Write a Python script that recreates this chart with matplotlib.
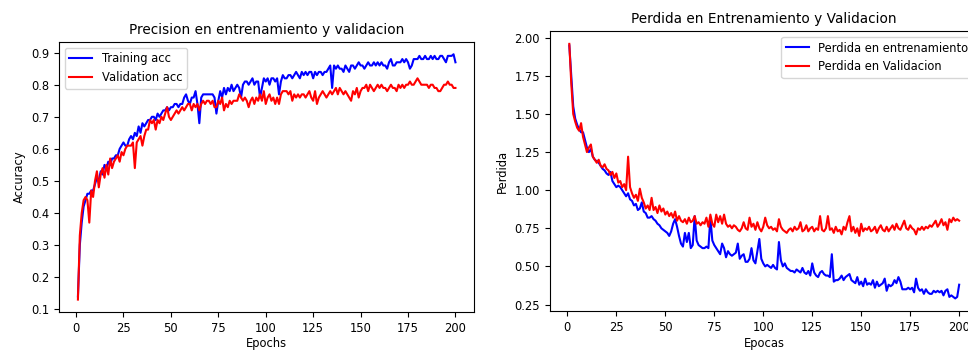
import matplotlib
matplotlib.use("Agg")
import matplotlib.pyplot as plt

epochs = list(range(1, 201))

train_acc = [
    0.14, 0.30, 0.37, 0.42, 0.44, 0.46, 0.46, 0.47, 0.47, 0.49,
    0.51, 0.50, 0.53, 0.52, 0.55, 0.54, 0.56, 0.55, 0.57, 0.57,
    0.58, 0.58, 0.60, 0.61, 0.62, 0.61, 0.61, 0.63, 0.64, 0.63,
    0.65, 0.64, 0.67, 0.65, 0.68, 0.67, 0.68, 0.69, 0.69, 0.70,
    0.70, 0.69, 0.71, 0.70, 0.71, 0.72, 0.72, 0.73, 0.72, 0.73,
    0.73, 0.74, 0.74, 0.73, 0.74, 0.74, 0.76, 0.77, 0.75, 0.74,
    0.76, 0.76, 0.78, 0.74, 0.68, 0.76, 0.77, 0.77, 0.77, 0.77,
    0.77, 0.77, 0.76, 0.71, 0.75, 0.78, 0.76, 0.79, 0.77, 0.79,
    0.78, 0.80, 0.78, 0.79, 0.80, 0.79, 0.76, 0.80, 0.81, 0.81,
    0.80, 0.81, 0.82, 0.80, 0.81, 0.81, 0.76, 0.79, 0.82, 0.81,
    0.82, 0.80, 0.82, 0.82, 0.81, 0.82, 0.77, 0.81, 0.83, 0.82,
    0.82, 0.83, 0.83, 0.82, 0.83, 0.84, 0.83, 0.82, 0.84, 0.83,
    0.84, 0.83, 0.84, 0.84, 0.82, 0.84, 0.83, 0.84, 0.84, 0.83,
    0.84, 0.84, 0.85, 0.86, 0.79, 0.86, 0.85, 0.86, 0.85, 0.85,
    0.84, 0.86, 0.85, 0.84, 0.86, 0.86, 0.85, 0.86, 0.87, 0.86,
    0.86, 0.85, 0.86, 0.87, 0.86, 0.86, 0.87, 0.86, 0.87, 0.86,
    0.87, 0.86, 0.86, 0.85, 0.87, 0.88, 0.86, 0.86, 0.87, 0.87,
    0.87, 0.88, 0.87, 0.88, 0.87, 0.85, 0.86, 0.88, 0.88, 0.88,
    0.89, 0.88, 0.88, 0.89, 0.88, 0.88, 0.89, 0.88, 0.89, 0.88,
    0.88, 0.89, 0.89, 0.88, 0.87, 0.89, 0.89, 0.89, 0.895, 0.87,
]

val_acc = [
    0.13, 0.33, 0.40, 0.44, 0.45, 0.44, 0.37, 0.47, 0.45, 0.50,
    0.53, 0.48, 0.52, 0.54, 0.51, 0.55, 0.52, 0.57, 0.54, 0.56,
    0.57, 0.58, 0.56, 0.59, 0.58, 0.60, 0.61, 0.61, 0.61, 0.62,
    0.54, 0.62, 0.63, 0.64, 0.61, 0.64, 0.66, 0.66, 0.69, 0.68,
    0.69, 0.66, 0.69, 0.68, 0.70, 0.69, 0.71, 0.73, 0.70, 0.69,
    0.70, 0.71, 0.72, 0.71, 0.72, 0.73, 0.72, 0.73, 0.74, 0.74,
    0.72, 0.74, 0.73, 0.74, 0.72, 0.74, 0.75, 0.74, 0.75, 0.75,
    0.74, 0.75, 0.73, 0.73, 0.75, 0.74, 0.76, 0.72, 0.74, 0.73,
    0.75, 0.74, 0.75, 0.75, 0.75, 0.77, 0.76, 0.75, 0.76, 0.75,
    0.73, 0.75, 0.76, 0.74, 0.76, 0.75, 0.77, 0.75, 0.78, 0.74,
    0.76, 0.77, 0.75, 0.76, 0.74, 0.76, 0.74, 0.77, 0.78, 0.78,
    0.78, 0.77, 0.78, 0.75, 0.77, 0.76, 0.77, 0.76, 0.77, 0.77,
    0.76, 0.77, 0.78, 0.76, 0.75, 0.78, 0.74, 0.76, 0.77, 0.78,
    0.77, 0.76, 0.77, 0.78, 0.77, 0.78, 0.79, 0.77, 0.79, 0.78,
    0.77, 0.78, 0.77, 0.76, 0.75, 0.78, 0.77, 0.79, 0.76, 0.78,
    0.79, 0.79, 0.80, 0.78, 0.80, 0.79, 0.78, 0.79, 0.80, 0.79,
    0.80, 0.79, 0.79, 0.78, 0.79, 0.80, 0.79, 0.79, 0.78, 0.80,
    0.79, 0.80, 0.79, 0.80, 0.80, 0.81, 0.80, 0.80, 0.81, 0.82,
    0.81, 0.80, 0.80, 0.80, 0.80, 0.79, 0.80, 0.80, 0.79, 0.79,
    0.78, 0.78, 0.79, 0.80, 0.80, 0.81, 0.80, 0.80, 0.79, 0.79,
]

train_loss = [
    1.95, 1.75, 1.55, 1.47, 1.43, 1.40, 1.38, 1.38, 1.33, 1.28,
    1.25, 1.27, 1.22, 1.20, 1.19, 1.18, 1.16, 1.14, 1.13, 1.11,
    1.10, 1.12, 1.06, 1.04, 1.02, 1.03, 1.02, 1.00, 0.98, 0.96,
    0.98, 0.94, 0.93, 0.90, 0.91, 0.87, 0.88, 0.92, 0.86, 0.85,
    0.82, 0.82, 0.83, 0.81, 0.80, 0.78, 0.77, 0.75, 0.74, 0.73,
    0.72, 0.70, 0.73, 0.78, 0.81, 0.76, 0.70, 0.65, 0.63, 0.72,
    0.66, 0.72, 0.62, 0.64, 0.83, 0.67, 0.64, 0.63, 0.62, 0.62,
    0.63, 0.62, 0.82, 0.67, 0.64, 0.62, 0.60, 0.58, 0.65, 0.62,
    0.56, 0.60, 0.58, 0.57, 0.58, 0.59, 0.65, 0.55, 0.57, 0.58,
    0.53, 0.53, 0.55, 0.62, 0.54, 0.52, 0.60, 0.68, 0.55, 0.52,
    0.50, 0.51, 0.50, 0.49, 0.51, 0.49, 0.48, 0.66, 0.54, 0.50,
    0.52, 0.49, 0.48, 0.47, 0.47, 0.46, 0.48, 0.47, 0.46, 0.49,
    0.46, 0.45, 0.47, 0.44, 0.52, 0.46, 0.44, 0.43, 0.46, 0.47,
    0.45, 0.44, 0.44, 0.43, 0.58, 0.40, 0.41, 0.41, 0.42, 0.44,
    0.41, 0.43, 0.44, 0.45, 0.41, 0.40, 0.39, 0.43, 0.38, 0.40,
    0.37, 0.42, 0.38, 0.39, 0.38, 0.41, 0.36, 0.40, 0.37, 0.38,
    0.39, 0.42, 0.34, 0.38, 0.37, 0.38, 0.41, 0.39, 0.43, 0.40,
    0.35, 0.35, 0.35, 0.36, 0.35, 0.36, 0.33, 0.42, 0.36, 0.34,
    0.35, 0.32, 0.35, 0.33, 0.32, 0.32, 0.34, 0.33, 0.34, 0.33,
    0.34, 0.31, 0.34, 0.35, 0.30, 0.31, 0.30, 0.29, 0.30, 0.38,
]

val_loss = [
    1.96, 1.70, 1.50, 1.45, 1.41, 1.39, 1.44, 1.35, 1.30, 1.25,
    1.28, 1.30, 1.22, 1.20, 1.18, 1.20, 1.16, 1.15, 1.17, 1.14,
    1.13, 1.10, 1.12, 1.08, 1.11, 1.05, 1.06, 1.02, 1.04, 1.00,
    1.22, 1.02, 0.98, 0.95, 0.97, 0.93, 1.01, 0.95, 0.92, 0.88,
    0.90, 0.87, 0.95, 0.87, 0.89, 0.85, 0.90, 0.86, 0.88, 0.84,
    0.86, 0.83, 0.85, 0.82, 0.86, 0.80, 0.83, 0.80, 0.79, 0.81,
    0.78, 0.82, 0.79, 0.80, 0.83, 0.78, 0.79, 0.77, 0.79, 0.78,
    0.82, 0.76, 0.84, 0.78, 0.76, 0.84, 0.79, 0.83, 0.78, 0.84,
    0.78, 0.76, 0.77, 0.75, 0.77, 0.76, 0.74, 0.73, 0.75, 0.79,
    0.75, 0.74, 0.82, 0.76, 0.78, 0.74, 0.79, 0.75, 0.73, 0.76,
    0.82, 0.77, 0.75, 0.76, 0.74, 0.75, 0.73, 0.81, 0.76, 0.74,
    0.73, 0.72, 0.74, 0.75, 0.73, 0.76, 0.74, 0.75, 0.79, 0.73,
    0.74, 0.77, 0.73, 0.75, 0.76, 0.73, 0.75, 0.74, 0.83, 0.74,
    0.73, 0.75, 0.83, 0.74, 0.75, 0.72, 0.76, 0.73, 0.74, 0.71,
    0.76, 0.74, 0.79, 0.83, 0.73, 0.76, 0.72, 0.75, 0.70, 0.78,
    0.73, 0.75, 0.74, 0.76, 0.73, 0.74, 0.76, 0.72, 0.75, 0.77,
    0.74, 0.73, 0.76, 0.73, 0.75, 0.77, 0.74, 0.78, 0.75, 0.74,
    0.77, 0.80, 0.75, 0.74, 0.77, 0.75, 0.74, 0.71, 0.75, 0.74,
    0.76, 0.74, 0.76, 0.75, 0.77, 0.76, 0.78, 0.80, 0.76, 0.78,
    0.81, 0.77, 0.79, 0.74, 0.81, 0.79, 0.82, 0.80, 0.81, 0.80,
]

fs = 8.3

fig = plt.figure(figsize=(9.68, 3.5), dpi=100)

# left panel - accuracy
ax1 = fig.add_axes([0.061, 0.109, 0.429, 0.771])
ax1.plot(epochs, train_acc, 'b', label='Training acc')
ax1.plot(epochs, val_acc, 'r', label='Validation acc')
ax1.set_title('Precision en entrenamiento y validacion', fontsize=9.8)
ax1.set_xlabel('Epochs', fontsize=fs, labelpad=2)
ax1.set_ylabel('Accuracy', fontsize=fs)
ax1.tick_params(labelsize=fs)
ax1.legend(loc='upper left', fontsize=fs)

# right panel - loss (runs past the right edge, like the screenshot)
ax2 = fig.add_axes([0.568, 0.111, 0.443, 0.8])
ax2.plot(epochs, train_loss, 'b', label='Perdida en entrenamiento')
ax2.plot(epochs, val_loss, 'r', label='Perdida en Validacion')
ax2.set_title('Perdida en Entrenamiento y Validacion', fontsize=9.8)
ax2.set_xlabel('Epocas', fontsize=fs, labelpad=2)
ax2.set_ylabel('Perdida', fontsize=fs)
ax2.tick_params(labelsize=fs)
ax2.legend(loc='upper right', fontsize=fs)

fig.savefig('out.png', dpi=100)
